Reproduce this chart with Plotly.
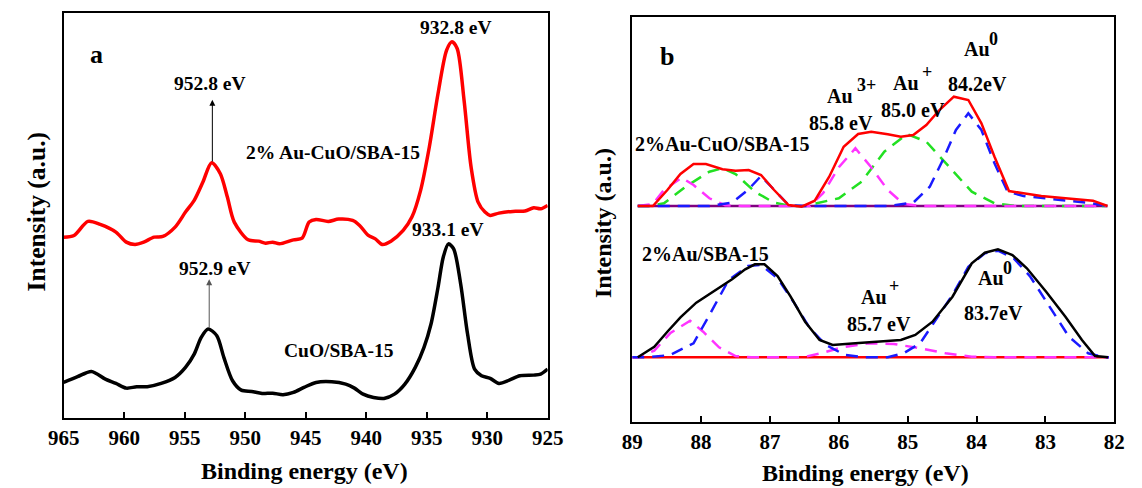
import plotly.graph_objects as go

# ---------------- Panel a : Cu 2p ----------------
a_red_E = [965.0, 964.14, 962.99, 961.98, 960.68, 959.82, 959.10, 958.38, 957.52, 956.80,
           955.79, 954.93, 954.21, 953.49, 952.77, 952.05, 951.47, 950.90, 949.75, 948.88,
           948.31, 947.73, 947.16, 946.01, 945.29, 944.71, 944.14, 943.13, 942.27, 941.12,
           940.54, 939.82, 939.24, 938.67, 937.95, 936.94, 936.22, 935.50, 934.78, 934.06,
           933.35, 932.91, 932.48, 931.91, 931.33, 930.75, 930.18, 929.75, 929.03, 927.88,
           926.87, 926.15, 925.58, 925.0]
a_red_I = [180, 181.7, 195.7, 192.7, 185, 175, 172.7, 175, 180, 180.7,
           190, 205, 216.7, 235, 254.3, 243.3, 220, 195, 177.3, 176,
           174, 175, 173.3, 177.3, 179, 195, 197.7, 195.7, 198, 196.7,
           191.7, 181.7, 178.3, 172.7, 176, 186.7, 200, 226.7, 270, 323.3,
           366.7, 375, 368.3, 316.7, 250, 215, 205, 201.7, 204, 205.7,
           206, 209.3, 208.3, 211.7]

a_blk_E = [965.0, 963.85, 962.70, 961.55, 960.68, 959.82, 958.96, 958.09, 956.94, 955.79,
           954.93, 954.21, 953.63, 953.06, 952.34, 951.76, 951.04, 950.32, 949.46, 948.60,
           947.73, 946.87, 946.01, 945.14, 944.14, 942.84, 941.69, 940.97, 940.25, 939.39,
           938.53, 937.66, 936.80, 935.94, 935.22, 934.64, 934.06, 933.63, 933.20, 932.77,
           932.19, 931.62, 931.04, 930.47, 929.75, 929.03, 928.17, 927.30, 926.15, 925.58,
           925.0]
a_blk_I = [35, 40.7, 46, 38.3, 34, 29.3, 30.7, 30.7, 34, 40,
           50, 63.3, 80, 88.3, 81.7, 60, 36.7, 27.3, 26, 24,
           24.3, 22.7, 25, 30, 35, 35.7, 33.3, 29.3, 23.3, 20,
           19, 23.3, 33.3, 50, 70, 93.3, 130, 160, 173.3, 168.3,
           133.3, 83.3, 48.3, 41.7, 39, 34, 37.3, 41.7, 42.3, 43.3,
           48.3]

a_ticks = [965, 960, 955, 950, 945, 940, 935, 930, 925]

# ---------------- Panel b : Au 4f ----------------
# top group: 2%Au-CuO/SBA-15
b1_env_E = [88.92, 88.70, 88.49, 88.30, 88.11, 87.93, 87.69, 87.50, 87.31, 87.13,
            86.94, 86.73, 86.54, 86.35, 86.14, 85.93, 85.72, 85.53, 85.29, 85.10,
            84.92, 84.73, 84.54, 84.33, 84.12, 83.93, 83.74, 83.53, 83.32, 83.06,
            82.71, 82.31, 82.10]
b1_env_I = [215.7, 215.7, 231.7, 247.7, 257.7, 257.7, 252.4, 251, 251.7, 246.7,
            231.7, 216.7, 215, 221, 245, 275, 287.7, 290, 287.4, 285,
            286.7, 296.7, 311.7, 325, 321.7, 298.4, 265, 230.7, 228.4, 225.7,
            223.4, 221, 215.7]
b1_base_E = [88.92, 82.10]
b1_base_I = [215.7, 215.7]
b1_mag_E = [88.92, 88.70, 88.54, 88.28, 88.11, 87.88, 87.65, 87.41, 86.42, 86.23,
            86.00, 85.76, 85.53, 85.29, 85.06, 84.82, 82.10]
b1_mag_I = [215.7, 217.7, 231.7, 244, 236.7, 223.4, 216.4, 215.7, 215.7, 228.4,
            254.4, 273.4, 254.4, 231.7, 217.7, 215.7, 215.7]
b1_grn_E = [88.92, 88.77, 88.54, 88.21, 87.88, 87.69, 87.50, 87.22, 86.94, 86.70,
            86.50, 86.00, 85.67, 85.34, 85.01, 84.73, 84.40, 84.07, 83.74, 83.41, 82.10]
b1_grn_I = [215.7, 215.7, 218.4, 235.7, 250, 253.4, 247.7, 230, 219, 215.7,
            215.7, 223.4, 240, 270, 287.7, 280, 255, 230, 218.4, 215.7, 215.7]
b1_blu_E = [88.92, 87.88, 87.55, 87.32, 87.13, 86.94, 86.73, 86.52, 85.29, 84.92,
            84.68, 84.49, 84.30, 84.12, 83.93, 83.74, 83.55, 83.32, 82.99, 82.66,
            82.33, 82.10]
b1_blu_I = [215.7, 215.7, 219, 231.7, 245.7, 231.7, 216.7, 215.7, 215.7, 219,
            235, 261.7, 291.7, 308.4, 291.7, 258.4, 230, 225.7, 223.4, 221,
            218.4, 215.7]

# bottom group: 2%Au/SBA-15
b2_env_E = [88.92, 88.68, 88.49, 88.30, 88.07, 87.79, 87.55, 87.36, 87.22, 87.08,
            86.89, 86.70, 86.49, 86.28, 86.09, 85.76, 85.43, 85.10, 84.89, 84.64,
            84.35, 84.07, 83.88, 83.69, 83.48, 83.27, 82.99, 82.71, 82.47, 82.28, 82.09]
b2_env_I = [64.4, 75, 90, 104.4, 119, 131.7, 142.4, 152.4, 157.4, 157.4,
            145.7, 125, 100, 81.7, 76.7, 78.4, 80, 81.7, 86.7, 100,
            125, 158.4, 169, 172.4, 166.7, 153.4, 130, 105, 81.7, 65.7, 64.4]
b2_base_E = [89.0, 82.08]
b2_base_I = [64.4, 64.4]
b2_blu_E = [89.0, 88.77, 88.45, 88.11, 87.88, 87.60, 87.32, 87.13, 86.89, 86.66,
            86.42, 86.19, 85.91, 85.62, 85.29, 85.06, 84.82, 84.59, 84.35, 84.12,
            83.88, 83.69, 83.46, 83.22, 82.94, 82.66, 82.38, 82.14, 82.08]
b2_blu_I = [64.4, 64.4, 66.7, 78.4, 106.7, 141.7, 155.7, 156.7, 143.4, 120,
            93.4, 76.7, 66.7, 64.4, 64.4, 68.4, 78.4, 101.7, 126.7, 155,
            168.4, 171, 163.4, 145, 115, 85, 68.4, 64.4, 64.4]
b2_mag_E = [89.0, 88.92, 88.68, 88.45, 88.16, 87.97, 87.74, 87.50, 87.27, 86.52,
            86.23, 85.95, 85.57, 85.20, 84.82, 84.45, 84.07, 83.74, 82.08]
b2_mag_I = [64.4, 64.4, 71, 88.4, 101, 90, 74.4, 65.7, 64.4, 64.4,
            69, 74.4, 78.4, 77.7, 73.4, 68.4, 65, 64.4, 64.4]

b_ticks = [89, 88, 87, 86, 85, 84, 83, 82]

FONT = "Liberation Serif"
RED = "#ff0000"
BLUE = "#1a1aff"
MAG = "#ff33ff"
GRN = "#22e022"
PUR = "#800080"
DASH = "12px,8px"

fig = go.Figure()

def line(x, y, color, width, xa, ya, dash="solid", shape="linear"):
    fig.add_trace(go.Scatter(x=x, y=y, mode="lines", xaxis=xa, yaxis=ya,
                             line=dict(color=color, width=width, dash=dash,
                                       shape=shape, smoothing=0.8),
                             showlegend=False, hoverinfo="skip"))

# panel a
line(a_red_E, a_red_I, RED, 3.5, "x", "y", shape="spline")
line(a_blk_E, a_blk_I, "black", 3.5, "x", "y", shape="spline")

# panel b top
line(b1_base_E, b1_base_I, PUR, 2.5, "x2", "y2")
line(b1_grn_E, b1_grn_I, GRN, 2.5, "x2", "y2", DASH)
line(b1_mag_E, b1_mag_I, MAG, 2.5, "x2", "y2", DASH)
line(b1_blu_E, b1_blu_I, BLUE, 2.5, "x2", "y2", DASH)
line(b1_env_E, b1_env_I, RED, 2.5, "x2", "y2")
# panel b bottom
line(b2_base_E, b2_base_I, RED, 2.5, "x2", "y2")
line(b2_mag_E, b2_mag_I, MAG, 2.5, "x2", "y2", DASH)
line(b2_blu_E, b2_blu_I, BLUE, 2.5, "x2", "y2", DASH)
line(b2_env_E, b2_env_I, "black", 2.5, "x2", "y2")

W, H = 1142, 488
axis_common = dict(showline=True, linewidth=2, linecolor="black", mirror=True,
                   showgrid=False, zeroline=False)
xcommon = dict(axis_common, ticks="inside", ticklen=6, tickwidth=1.5, tickcolor="black",
               tickfont=dict(family=FONT, size=21, color="black", weight="bold"))
ycommon = dict(axis_common, showticklabels=False, ticks="")

fig.update_layout(
    width=W, height=H, margin=dict(l=0, r=0, t=0, b=0),
    paper_bgcolor="white", plot_bgcolor="white",
    xaxis=dict(xcommon, domain=[49 / W, 547 / W], range=[965, 925],
               tickvals=a_ticks, anchor="y"),
    yaxis=dict(ycommon, domain=[1 - 417.5 / H, 1 - 12.7 / H], range=[0, 404], anchor="x"),
    xaxis2=dict(xcommon, domain=[634 / W, 1130 / W], range=[89, 82],
                tickvals=b_ticks, anchor="y2"),
    yaxis2=dict(ycommon, domain=[1 - 421.7 / H, 1 - 16.7 / H], range=[0, 405], anchor="x2"),
)

def txt(x, y, s, size=19.5, xa="x", ya="y"):
    fig.add_annotation(x=x, y=y, text=s, xref=xa, yref=ya, showarrow=False,
                       xanchor="center", yanchor="middle",
                       font=dict(family=FONT, size=size, color="black", weight="bold"))

# panel a texts
txt(962.3, 362, "a", 26)
txt(952.91, 333, "952.8 eV")
txt(932.54, 389, "932.8 eV")
txt(942.70, 264, "2% Au-CuO/SBA-15")
txt(933.20, 188, "933.1 eV")
txt(952.51, 149, "952.9 eV")
txt(942.22, 67, "CuO/SBA-15")

# arrows
fig.add_annotation(x=952.71, y=317, ax=952.71, ay=254, xref="x", yref="y",
                   axref="x", ayref="y", text="", showarrow=True,
                   arrowhead=2, arrowsize=1.2, arrowwidth=1, arrowcolor="black")
fig.add_annotation(x=952.97, y=138, ax=952.97, ay=88, xref="x", yref="y",
                   axref="x", ayref="y", text="", showarrow=True,
                   arrowhead=2, arrowsize=1.2, arrowwidth=1, arrowcolor="#555555")

# panel b texts
B = dict(xa="x2", ya="y2")
txt(88.50, 365, "b", 26, **B)
txt(87.69, 278, "2%Au-CuO/SBA-15", 20, **B)
txt(85.98, 326, "Au", 20, **B)
txt(85.60, 337, "3+", 18, **B)
txt(85.97, 299, "85.8 eV", 20, **B)
txt(85.03, 339, "Au", 20, **B)
txt(84.72, 350, "+", 18, **B)
txt(84.93, 312, "85.0 eV", 20, **B)
txt(83.99, 373, "Au", 20, **B)
txt(83.75, 383, "0", 18, **B)
txt(83.99, 338, "84.2eV", 20, **B)
txt(87.94, 168, "2%Au/SBA-15", 20, **B)
txt(85.49, 125, "Au", 20, **B)
txt(85.20, 136, "+", 18, **B)
txt(85.42, 98, "85.7 eV", 20, **B)
txt(83.79, 144, "Au", 20, **B)
txt(83.55, 154, "0", 18, **B)
txt(83.76, 109, "83.7eV", 20, **B)

# axis titles
def ptxt(x, y, s, size, angle=0):
    fig.add_annotation(x=x / W, y=1 - y / H, xref="paper", yref="paper", text=s,
                       showarrow=False, textangle=angle,
                       xanchor="center", yanchor="middle",
                       font=dict(family=FONT, size=size, color="black", weight="bold"))

ptxt(297, 471, "Binding energy (eV)", 24)
ptxt(874, 473, "Binding energy (eV)", 24)
ptxt(22, 212, "Intensity (a.u.)", 25.5, -90)
ptxt(604, 223, "Intensity (a.u.)", 24, -90)

fig.write_html("out.html")
